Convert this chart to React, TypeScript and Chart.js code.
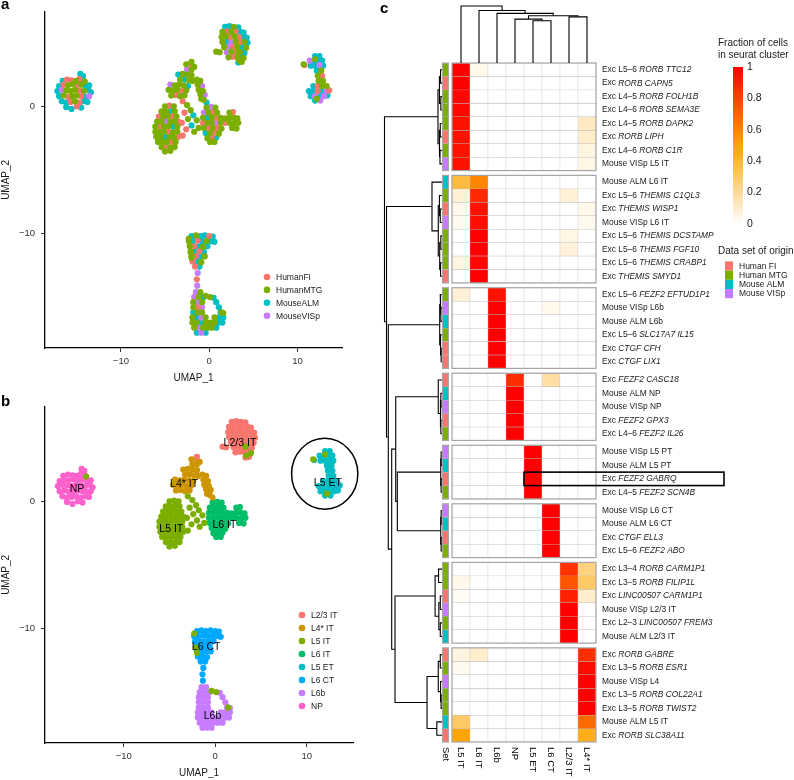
import React, { useEffect, useRef } from 'react';
import { Chart, registerables } from 'chart.js';

Chart.register(...registerables);

const FONT = '"Liberation Sans", Arial, Helvetica, sans-serif';

// ---------------- Panels a / b : UMAP ----------------
const originNames = ['HumanFI', 'HumanMTG', 'MouseALM', 'MouseVISp'];
const originLabelsC = ['Human FI', 'Human MTG', 'Mouse ALM', 'Mouse VISp'];
const originColors = ['#F8766D', '#7CAE00', '#00BFC4', '#C77CFF'];

const clusterNames = ['L2/3 IT', 'L4* IT', 'L5 IT', 'L6 IT', 'L5 ET', 'L6 CT', 'L6b', 'NP'];
const clusterColors = ['#F8766D', '#CD9600', '#7CAE00', '#00BE67', '#00BFC4', '#00A9FF', '#C77CFF', '#FF61CC'];

// [UMAP_1, UMAP_2, origin index]
type P = [number, number, number];

const ptsL23: P[] = [
  [1.8, 6.25, 2], [2.3, 6.3, 2], [2.8, 6.25, 1], [3.3, 6.2, 2],
  [1.5, 5.85, 1], [2.0, 5.9, 0], [2.5, 5.85, 1], [3.0, 5.9, 0], [3.5, 5.85, 2], [3.9, 5.8, 2],
  [1.4, 5.45, 1], [1.9, 5.5, 1], [2.4, 5.45, 0], [2.9, 5.5, 1], [3.4, 5.45, 0], [3.9, 5.45, 2], [4.25, 5.4, 2],
  [1.5, 5.05, 1], [2.0, 5.1, 2], [2.5, 5.05, 3], [3.0, 5.1, 1], [3.5, 5.05, 0], [4.0, 5.05, 1], [4.35, 5.0, 2],
  [1.7, 4.65, 1], [2.2, 4.7, 3], [2.7, 4.65, 0], [3.2, 4.7, 1], [3.7, 4.65, 2], [4.2, 4.6, 1],
  [0.8, 4.3, 1], [1.2, 4.25, 1], [2.0, 4.25, 3], [2.5, 4.3, 1], [3.0, 4.25, 0], [3.5, 4.25, 1], [4.0, 4.2, 2],
  [2.2, 3.85, 1], [2.7, 3.9, 0], [3.2, 3.85, 1], [3.7, 3.85, 2],
  [3.3, 3.45, 2], [3.7, 3.5, 1], [-2.0, 3.5, 1],
];

const ptsL4: P[] = [
  [-2.6, 3.3, 1], [-2.1, 3.35, 0], [-1.7, 3.1, 1], [-2.5, 2.9, 3], [-2.0, 2.9, 1],
  [-3.5, 2.5, 2], [-3.0, 2.55, 1], [-2.5, 2.5, 1], [-2.0, 2.45, 1], [-3.3, 2.1, 1], [-2.8, 2.1, 2], [-2.3, 2.05, 1], [-1.9, 2.0, 1],
  [-4.4, 1.7, 3], [-3.9, 1.65, 1], [-3.4, 1.7, 1], [-2.9, 1.65, 1], [-2.4, 1.6, 2],
  [-4.6, 1.3, 1], [-4.1, 1.25, 1], [-3.6, 1.3, 1], [-3.1, 1.2, 0], [-2.6, 1.25, 1],
  [-4.3, 0.85, 1], [-3.8, 0.9, 0], [-3.3, 0.8, 1], [-2.8, 0.85, 1],
  [-1.4, 2.1, 1], [-1.0, 2.0, 1], [-1.3, 1.7, 1], [-0.8, 1.6, 3], [-1.2, 1.3, 1], [-0.7, 1.2, 1],
  [-0.5, 0.9, 3], [-1.0, 0.95, 1], [-0.6, 0.5, 1], [-0.3, 0.3, 2], [-0.9, 0.6, 1],
];

const ptsL5: P[] = [
  [-5.0, 0.0, 1], [-4.5, 0.05, 0], [-4.0, 0.0, 1],
  [-5.4, -0.4, 1], [-4.9, -0.4, 1], [-4.4, -0.35, 2], [-3.9, -0.4, 1],
  [-5.7, -0.8, 0], [-5.2, -0.8, 1], [-4.7, -0.75, 1], [-4.2, -0.8, 0], [-3.7, -0.8, 1],
  [-5.9, -1.2, 1], [-5.4, -1.2, 1], [-4.9, -1.15, 3], [-4.4, -1.2, 1], [-3.9, -1.2, 1], [-3.5, -1.2, 0],
  [-6.1, -1.6, 1], [-5.6, -1.6, 0], [-5.1, -1.6, 1], [-4.6, -1.55, 1], [-4.1, -1.6, 2], [-3.6, -1.6, 1],
  [-6.1, -2.0, 1], [-5.6, -2.0, 1], [-5.1, -2.0, 1], [-4.6, -2.0, 0], [-4.1, -2.05, 1], [-3.6, -2.0, 1],
  [-6.0, -2.4, 1], [-5.5, -2.4, 1], [-5.0, -2.4, 2], [-4.5, -2.4, 1], [-4.0, -2.45, 1], [-3.5, -2.4, 0],
  [-5.8, -2.8, 1], [-5.3, -2.8, 1], [-4.8, -2.8, 1], [-4.3, -2.8, 0], [-3.8, -2.8, 1],
  [-5.4, -3.2, 1], [-4.9, -3.2, 0], [-4.4, -3.25, 1], [-3.9, -3.2, 1],
  [-5.0, -3.55, 1], [-4.4, -3.5, 1],
  [-3.0, 0.4, 0], [-2.5, 0.1, 1], [-2.1, -0.3, 1], [-2.8, -0.5, 0], [-1.8, -0.7, 2], [-2.4, -1.0, 1],
  [-1.4, -1.1, 1], [-3.1, -1.3, 0], [-2.0, -1.5, 2], [-1.2, -1.7, 1], [-2.6, -1.8, 0], [-1.7, -2.0, 1], [-3.0, -2.3, 0],
  [-14.1, 1.95, 1], [3.3, 4.3, 1], [3.4, 3.6, 1], [3.9, 3.8, 1], [12.0, 3.7, 1], [10.7, 3.3, 1], [12.2, 0.6, 1],
  [-2.3, -10.4, 1], [-2.1, -11.5, 1], [-2.0, -11.9, 1], [-0.4, -14.9, 1], [0.1, -15.0, 1], [1.4, -16.2, 1],
];

const ptsL6: P[] = [
  [-0.3, -0.1, 1], [0.2, -0.05, 3], [0.7, -0.1, 1],
  [-0.6, -0.5, 3], [-0.1, -0.5, 1], [0.4, -0.45, 0], [0.9, -0.5, 1], [2.3, -0.5, 1], [2.7, -0.45, 0],
  [-0.7, -0.9, 1], [-0.2, -0.9, 2], [0.3, -0.85, 1], [0.8, -0.9, 0], [1.3, -0.9, 1], [1.8, -0.95, 1], [2.3, -0.9, 1], [2.8, -0.9, 1], [3.2, -0.95, 1],
  [-0.7, -1.3, 0], [-0.2, -1.3, 1], [0.3, -1.3, 1], [0.8, -1.25, 3], [1.3, -1.3, 1], [1.8, -1.3, 0], [2.3, -1.3, 1], [2.8, -1.35, 1], [3.3, -1.3, 1],
  [-0.6, -1.7, 1], [-0.1, -1.7, 0], [0.4, -1.7, 1], [0.9, -1.7, 0], [1.4, -1.75, 1], [2.6, -1.7, 1], [3.1, -1.75, 1],
  [-0.4, -2.1, 2], [0.1, -2.1, 1], [0.6, -2.1, 0], [1.1, -2.15, 1],
  [-0.2, -2.5, 1], [0.3, -2.5, 0], [0.8, -2.45, 2],
  [0.1, -2.8, 1], [0.6, -2.8, 1],
];

const ptsL5ET: P[] = [
  [12.0, 3.95, 2], [12.5, 3.95, 2],
  [11.4, 3.6, 3], [11.9, 3.6, 2], [12.4, 3.65, 2], [12.8, 3.6, 2],
  [10.8, 3.25, 0], [11.5, 3.2, 2], [12.0, 3.2, 2], [12.5, 3.25, 3], [12.9, 3.2, 2],
  [12.2, 2.8, 2], [12.7, 2.8, 1], [12.3, 2.4, 1], [12.8, 2.4, 0], [12.4, 2.0, 1], [12.9, 2.0, 1],
  [11.8, 1.6, 2], [12.3, 1.6, 0], [12.8, 1.6, 1], [13.3, 1.6, 1],
  [11.3, 1.2, 2], [11.8, 1.2, 2], [12.3, 1.2, 0], [12.8, 1.2, 2], [13.3, 1.2, 3], [13.6, 1.25, 0],
  [11.5, 0.8, 2], [12.0, 0.8, 3], [12.5, 0.8, 2], [13.0, 0.8, 3], [13.4, 0.85, 2],
  [12.0, 0.45, 2], [12.6, 0.45, 3],
];

const ptsL6CT: P[] = [
  [-2.0, -10.2, 2], [-1.5, -10.15, 1], [-1.0, -10.2, 2], [-0.5, -10.15, 2], [0.0, -10.2, 0], [0.4, -10.25, 2],
  [-2.3, -10.6, 1], [-1.8, -10.6, 2], [-1.3, -10.55, 0], [-0.8, -10.6, 2], [-0.3, -10.6, 1], [0.2, -10.6, 2], [0.6, -10.65, 2],
  [-2.2, -11.0, 1], [-1.7, -11.0, 0], [-1.2, -11.0, 2], [-0.7, -11.05, 1], [-0.2, -11.0, 2],
  [-2.1, -11.4, 1], [-1.6, -11.4, 2], [-1.1, -11.4, 0], [-0.6, -11.45, 2],
  [-2.0, -11.8, 1], [-1.5, -11.8, 0], [-1.0, -11.8, 2], [-0.5, -11.8, 1],
  [-1.9, -12.2, 0], [-1.4, -12.2, 2], [-0.9, -12.25, 1],
  [-1.6, -12.6, 0], [-1.1, -12.6, 2],
  [-1.3, -13.1, 3], [-1.4, -13.6, 0], [-1.35, -14.1, 3],
];

const ptsL6b: P[] = [
  [-1.5, -14.6, 3], [-1.0, -14.6, 1],
  [-1.7, -15.0, 3], [-1.2, -15.0, 1], [-0.6, -15.0, 2], [0.5, -15.05, 2],
  [-1.8, -15.4, 1], [-1.3, -15.4, 3], [-0.8, -15.4, 1], [0.8, -15.4, 2],
  [-1.8, -15.8, 1], [-1.3, -15.8, 0], [-0.8, -15.8, 3], [1.1, -15.8, 2],
  [-1.8, -16.2, 2], [-1.3, -16.2, 1], [-0.8, -16.2, 1], [1.3, -16.2, 2], [1.6, -16.25, 1],
  [-1.9, -16.6, 1], [-1.4, -16.6, 2], [-0.9, -16.6, 3], [-0.4, -16.6, 1], [0.6, -16.6, 1], [1.1, -16.6, 2], [1.6, -16.6, 2],
  [-1.9, -17.0, 1], [-1.4, -17.0, 1], [-0.9, -17.0, 2], [-0.4, -17.0, 1], [0.1, -17.0, 1], [0.6, -17.0, 1], [1.1, -17.0, 2], [1.5, -17.0, 2],
  [-1.7, -17.4, 1], [-1.2, -17.4, 3], [-0.7, -17.4, 1], [-0.2, -17.4, 1], [0.3, -17.4, 1], [0.8, -17.4, 2],
  [-1.4, -17.8, 2], [-0.9, -17.8, 3], [-0.4, -17.8, 2],
];

const ptsNP: P[] = [
  [-14.6, 2.55, 2], [-14.3, 2.4, 2],
  [-16.6, 2.0, 2], [-16.1, 2.1, 0], [-15.6, 2.05, 0], [-15.1, 2.0, 1], [-14.7, 2.15, 0], [-14.2, 2.0, 2],
  [-17.0, 1.6, 2], [-16.5, 1.7, 0], [-16.0, 1.65, 1], [-15.5, 1.75, 1], [-15.0, 1.7, 0], [-14.5, 1.7, 1], [-14.0, 1.6, 2], [-13.6, 1.65, 2],
  [-17.2, 1.2, 2], [-16.7, 1.3, 3], [-16.2, 1.25, 1], [-15.7, 1.2, 1], [-15.2, 1.3, 1], [-14.7, 1.25, 0], [-14.2, 1.2, 1], [-13.7, 1.3, 2], [-13.4, 1.1, 2],
  [-17.0, 0.8, 2], [-16.5, 0.85, 1], [-16.0, 0.75, 0], [-15.5, 0.8, 1], [-15.0, 0.85, 1], [-14.5, 0.8, 0], [-14.0, 0.75, 2], [-13.6, 0.8, 3],
  [-16.7, 0.4, 2], [-16.2, 0.3, 2], [-15.7, 0.35, 0], [-15.2, 0.4, 1], [-14.7, 0.3, 0], [-14.2, 0.4, 2], [-13.8, 0.35, 2],
  [-16.2, -0.05, 2], [-15.6, -0.2, 2], [-15.0, 0.0, 0], [-14.5, -0.1, 2],
];

const clusterPoints: P[][] = [ptsL23, ptsL4, ptsL5, ptsL6, ptsL5ET, ptsL6CT, ptsL6b, ptsNP];
const clusterLabelPos: [number, number][] = [
  [2.7, 4.6], [-3.4, 1.35], [-4.8, -2.15], [1.0, -1.9], [12.3, 1.4], [-1.0, -11.5], [-0.3, -16.9], [-15.1, 0.95],
];
const highlightCircle = { center: [11.96, 2.17], radius: [3.62, 2.79] };

const umapXRange = [-18.6, 15.05];
const umapYRange = [-19.0, 7.44];
const umapTicksX = [-10, 0, 10];
const umapTicksY = [-10, 0];

// ---------------- Panel c : heatmap ----------------
const heatColumns = ['L5 IT', 'L6 IT', 'L6b', 'NP', 'L5 ET', 'L6 CT', 'L2/3 IT', 'L4* IT'];
const groupSizes = [8, 8, 6, 5, 4, 4, 6, 7];

const rowLabels: [string, string][] = [
  ['Exc L5–6 ', 'RORB TTC12'], ['Exc ', 'RORB CAPN5'], ['Exc L4–5 ', 'RORB FOLH1B'], ['Exc L4–6 ', 'RORB SEMA3E'],
  ['Exc L4–5 ', 'RORB DAPK2'], ['Exc ', 'RORB LIPH'], ['Exc L4–6 ', 'RORB C1R'], ['Mouse VISp L5 IT', ''],
  ['Mouse ALM L6 IT', ''], ['Exc L5–6 ', 'THEMIS C1QL3'], ['Exc ', 'THEMIS WISP1'], ['Mouse VISp L6 IT', ''],
  ['Exc L5–6 ', 'THEMIS DCSTAMP'], ['Exc L5–6 ', 'THEMIS FGF10'], ['Exc L5–6 ', 'THEMIS CRABP1'], ['Exc ', 'THEMIS SMYD1'],
  ['Exc L5–6 ', 'FEZF2 EFTUD1P1'], ['Mouse VISp L6b', ''], ['Mouse ALM L6b', ''], ['Exc L5–6 ', 'SLC17A7 IL15'],
  ['Exc ', 'CTGF CFH'], ['Exc ', 'CTGF LIX1'],
  ['Exc ', 'FEZF2 CASC18'], ['Mouse ALM NP', ''], ['Mouse VISp NP', ''], ['Exc ', 'FEZF2 GPX3'], ['Exc L4–6 ', 'FEZF2 IL26'],
  ['Mouse VISp L5 PT', ''], ['Mouse ALM L5 PT', ''], ['Exc ', 'FEZF2 GABRQ'], ['Exc L4–5 ', 'FEZF2 SCN4B'],
  ['Mouse VISp L6 CT', ''], ['Mouse ALM L6 CT', ''], ['Exc ', 'CTGF ELL3'], ['Exc L5–6 ', 'FEZF2 ABO'],
  ['Exc L3–4 ', 'RORB CARM1P1'], ['Exc L3–5 ', 'RORB FILIP1L'], ['Exc ', 'LINC00507 CARM1P1'], ['Mouse VISp L2/3 IT', ''],
  ['Exc L2–3 ', 'LINC00507 FREM3'], ['Mouse ALM L2/3 IT', ''],
  ['Exc ', 'RORB GABRE'], ['Exc L3–5 ', 'RORB ESR1'], ['Mouse VISp L4', ''], ['Exc L3–5 ', 'RORB COL22A1'],
  ['Exc L3–5 ', 'RORB TWIST2'], ['Mouse ALM L5 IT', ''], ['Exc ', 'RORB SLC38A11'],
];

// 0 Human FI, 1 Human MTG, 2 Mouse ALM, 3 Mouse VISp
const rowOrigin = [
  1, 0, 1, 1, 1, 0, 1, 3,
  2, 1, 0, 3, 1, 1, 1, 0,
  1, 3, 2, 1, 0, 0,
  0, 2, 3, 0, 1,
  3, 2, 0, 1,
  3, 2, 0, 1,
  1, 1, 0, 3, 1, 2,
  0, 1, 3, 1, 1, 2, 0,
];

const heatValues = [
  [1.0, 0.04, 0, 0, 0, 0, 0, 0],
  [1.0, 0, 0, 0, 0, 0, 0, 0],
  [0.98, 0, 0, 0, 0, 0, 0, 0],
  [0.98, 0, 0, 0, 0, 0, 0, 0],
  [0.95, 0, 0, 0, 0, 0, 0, 0.12],
  [0.95, 0, 0, 0, 0, 0, 0, 0.1],
  [0.95, 0, 0, 0, 0, 0, 0, 0.06],
  [0.95, 0, 0, 0, 0, 0, 0, 0.05],
  [0.38, 0.6, 0, 0, 0, 0, 0, 0],
  [0.08, 0.88, 0, 0, 0, 0, 0.08, 0],
  [0.04, 0.95, 0, 0, 0, 0, 0, 0.04],
  [0.03, 0.96, 0, 0, 0, 0, 0, 0.03],
  [0, 1.0, 0, 0, 0, 0, 0.05, 0],
  [0, 1.0, 0, 0, 0, 0, 0.07, 0],
  [0.06, 0.98, 0, 0, 0, 0, 0, 0],
  [0, 1.0, 0, 0, 0, 0, 0, 0],
  [0.08, 0, 0.95, 0, 0, 0, 0, 0],
  [0, 0, 1.0, 0, 0, 0.04, 0, 0],
  [0, 0, 1.0, 0, 0, 0, 0, 0],
  [0, 0, 1.0, 0, 0, 0, 0, 0],
  [0, 0, 1.0, 0, 0, 0, 0, 0],
  [0, 0, 1.0, 0, 0, 0, 0, 0],
  [0, 0, 0, 0.86, 0, 0.18, 0, 0],
  [0, 0, 0, 1.0, 0, 0, 0, 0],
  [0, 0, 0, 1.0, 0, 0, 0, 0],
  [0, 0, 0, 1.0, 0, 0, 0, 0],
  [0, 0, 0, 1.0, 0, 0, 0, 0],
  [0, 0, 0, 0, 1.0, 0, 0, 0],
  [0, 0, 0, 0, 1.0, 0, 0, 0],
  [0, 0, 0, 0, 1.0, 0, 0, 0],
  [0, 0, 0, 0, 1.0, 0, 0, 0],
  [0, 0, 0, 0, 0, 1.0, 0, 0],
  [0, 0, 0, 0, 0, 1.0, 0, 0],
  [0, 0, 0, 0, 0, 1.0, 0, 0],
  [0, 0, 0, 0, 0, 1.0, 0, 0],
  [0, 0, 0, 0, 0, 0, 0.85, 0.25],
  [0.04, 0, 0, 0, 0, 0, 0.75, 0.3],
  [0.02, 0, 0, 0, 0, 0, 0.9, 0.1],
  [0, 0, 0, 0, 0, 0, 1.0, 0],
  [0, 0, 0, 0, 0, 0, 1.0, 0],
  [0, 0, 0, 0, 0, 0, 1.0, 0],
  [0.06, 0.1, 0, 0, 0, 0, 0, 0.86],
  [0.03, 0, 0, 0, 0, 0, 0, 0.97],
  [0, 0, 0, 0, 0, 0, 0, 1.0],
  [0, 0, 0, 0, 0, 0, 0, 1.0],
  [0, 0, 0, 0, 0, 0, 0, 1.0],
  [0.3, 0, 0, 0, 0, 0, 0, 0.68],
  [0.5, 0, 0, 0, 0, 0, 0, 0.45],
];

// Column dendrogram: [node id, child, child, height] (leaf = column index)
const colMerges: [string, number | string, number | string, number][] = [
  ['m1', 4, 5, 0.74], ['m2', 3, 'm1', 0.77], ['m3', 6, 7, 0.81], ['m4', 'm2', 'm3', 0.83],
  ['m5', 2, 'm4', 0.87], ['m6', 1, 'm5', 0.92], ['root', 0, 'm6', 1.0],
];

// Row dendrogram: [node id, child, child, height] (leaf = row index)
const rowMerges: [string, number | string, number | string, number][] = [
  ['a1', 0, 1, 0.025], ['a2', 2, 3, 0.02], ['a3', 4, 5, 0.03], ['a4', 6, 7, 0.035], ['a5', 'a1', 'a2', 0.045], ['a6', 'a3', 'a4', 0.05], ['g1', 'a5', 'a6', 0.07],
  ['b1', 10, 11, 0.03], ['b2', 9, 'b1', 0.045], ['b3', 12, 13, 0.02], ['b4', 14, 15, 0.025], ['b5', 'b3', 'b4', 0.04], ['b6', 'b2', 'b5', 0.065], ['g2', 8, 'b6', 0.174],
  ['c1', 17, 18, 0.02], ['c2', 16, 'c1', 0.03], ['c3', 20, 21, 0.015], ['c4', 19, 'c3', 0.025], ['g3', 'c2', 'c4', 0.04],
  ['d1', 23, 24, 0.02], ['d2', 25, 26, 0.02], ['d3', 'd1', 'd2', 0.03], ['g4', 22, 'd3', 0.065],
  ['e1', 27, 28, 0.015], ['e2', 29, 30, 0.015], ['g5', 'e1', 'e2', 0.022],
  ['f1', 31, 32, 0.015], ['f2', 33, 34, 0.015], ['g6', 'f1', 'f2', 0.022],
  ['h1', 35, 36, 0.06], ['h2', 37, 38, 0.03], ['h3', 39, 40, 0.03], ['h4', 'h2', 'h3', 0.055], ['g7', 'h1', 'h4', 0.12],
  ['i1', 41, 42, 0.03], ['i2', 44, 45, 0.015], ['i3', 43, 'i2', 0.025], ['i4', 'i1', 'i3', 0.065], ['i5', 46, 47, 0.09], ['g8', 'i4', 'i5', 0.26],
  ['r6', 'g5', 'g6', 0.777], ['r4', 'g4', 'r6', 0.805], ['r5', 'g7', 'g8', 0.817], ['r3', 'r4', 'r5', 0.875],
  ['r2', 'g3', 'r3', 0.934], ['r1', 'g2', 'r2', 0.965], ['root', 'g1', 'r1', 1.0],
];

const colorbarTicks = [0, 0.2, 0.4, 0.6, 0.8, 1];
const highlightCell = { row: 29, col: 4 };

// ---------------- helpers ----------------
const GAP = 0.357;
const rowGroup: number[] = [];
groupSizes.forEach((n, g) => { for (let k = 0; k < n; k++) rowGroup.push(g); });
const rowPos = rowGroup.map((g, i) => i + g * GAP);
const Y_MIN = -0.5;
const Y_MAX = rowPos[rowPos.length - 1] + 0.5;
const groupRanges: [number, number][] = [];
{
  let s = 0;
  groupSizes.forEach((n) => { groupRanges.push([s, s + n - 1]); s += n; });
}

function heatColor(v: number) {
  let g: number, b: number;
  if (v <= 0.5) { const t = v / 0.5; g = 255 - 90 * t; b = 255 * (1 - t); }
  else { const t = (v - 0.5) / 0.5; g = 165 * (1 - t); b = 0; }
  return `rgb(255,${Math.round(g)},${Math.round(b)})`;
}

const fmtTick = (v: number) => (v < 0 ? '\u2212' + Math.abs(v) : String(v));
const POINT_R = 3.1;

function scatterConfig(panel: 'a' | 'b'): any {
  const isA = panel === 'a';
  const allPoints = clusterPoints.flat();
  const datasets = isA
    ? originNames.map((name, o) => ({
        label: name,
        data: allPoints.filter((p) => p[2] === o).map((p) => ({ x: p[0], y: p[1] })),
        backgroundColor: originColors[o],
        borderColor: originColors[o],
        pointRadius: POINT_R,
        pointBorderWidth: 0,
        pointHoverRadius: POINT_R,
        order: [2, 1, 4, 3][o],
      }))
    : clusterNames.map((name, c) => ({
        label: name,
        data: clusterPoints[c].map((p) => ({ x: p[0], y: p[1] })),
        backgroundColor: clusterColors[c],
        borderColor: clusterColors[c],
        pointRadius: POINT_R,
        pointBorderWidth: 0,
        pointHoverRadius: POINT_R,
        order: name === 'L5 IT' ? 0 : name === 'L2/3 IT' ? 1 : 2,
      }));

  const xAxisHeight = isA ? 47 : 37;
  const padRight = isA ? 28 : 17;

  const deco = {
    id: 'deco' + panel,
    afterDraw(chart: any) {
      const { ctx, chartArea: ca, scales } = chart;
      ctx.save();
      ctx.fillStyle = '#000';
      ctx.font = `bold 15px ${FONT}`;
      ctx.textAlign = 'left';
      ctx.textBaseline = 'alphabetic';
      ctx.fillText(panel, 1, isA ? 9 : 11);

      ctx.fillStyle = '#1a1a1a';
      ctx.font = `10px ${FONT}`;
      ctx.textAlign = 'center';
      ctx.textBaseline = 'middle';
      ctx.fillText('UMAP_1', (ca.left + ca.right) / 2, ca.bottom + 30);
      ctx.save();
      ctx.translate(6, (ca.top + ca.bottom) / 2);
      ctx.rotate(-Math.PI / 2);
      ctx.fillText('UMAP_2', 0, 0);
      ctx.restore();

      // legend
      const names = isA ? originNames : clusterNames;
      const cols = isA ? originColors : clusterColors;
      const lx = isA ? ca.right - 75 : ca.right - 51;
      const ly = isA ? ca.bottom - 71 : ca.bottom - 128;
      const pitch = isA ? 12.9 : 13.0;
      ctx.textAlign = 'left';
      ctx.font = `8.5px ${FONT}`;
      names.forEach((n, i) => {
        const y = ly + i * pitch;
        ctx.fillStyle = cols[i];
        ctx.beginPath();
        ctx.arc(lx, y, 3.3, 0, Math.PI * 2);
        ctx.fill();
        ctx.fillStyle = '#1a1a1a';
        ctx.fillText(n, lx + 9, y + 0.5);
      });

      if (!isA) {
        const x = scales.x, y = scales.y;
        ctx.fillStyle = '#000';
        ctx.font = `10.5px ${FONT}`;
        ctx.textAlign = 'center';
        clusterNames.forEach((n, i) => {
          const [ux, uy] = clusterLabelPos[i];
          ctx.fillText(n, x.getPixelForValue(ux), y.getPixelForValue(uy));
        });
        const cx = x.getPixelForValue(highlightCircle.center[0]);
        const cy = y.getPixelForValue(highlightCircle.center[1]);
        const rx = Math.abs(x.getPixelForValue(highlightCircle.center[0] + highlightCircle.radius[0]) - cx);
        const ry = Math.abs(y.getPixelForValue(highlightCircle.center[1] + highlightCircle.radius[1]) - cy);
        ctx.strokeStyle = '#000';
        ctx.lineWidth = 1.5;
        ctx.beginPath();
        ctx.ellipse(cx, cy, rx, ry, 0, 0, Math.PI * 2);
        ctx.stroke();
      }
      ctx.restore();
    },
  };

  const axisCommon = {
    type: 'linear',
    grid: { drawOnChartArea: false, drawTicks: true, tickLength: 4, color: '#333', lineWidth: 1 },
    border: { display: true, color: '#000', width: 1.3 },
  };

  return {
    type: 'scatter',
    data: { datasets },
    options: {
      animation: false,
      responsive: false,
      maintainAspectRatio: false,
      layout: { padding: { top: 7, right: padRight, bottom: 0, left: 0 } },
      plugins: { legend: { display: false }, tooltip: { enabled: false } },
      scales: {
        x: {
          ...axisCommon,
          min: umapXRange[0],
          max: umapXRange[1],
          afterBuildTicks: (s: any) => { s.ticks = umapTicksX.map((v) => ({ value: v })); },
          afterFit: (s: any) => { s.height = xAxisHeight; },
          ticks: { font: { family: FONT, size: 9.5 }, color: '#333', padding: 4, maxRotation: 0, autoSkip: false, callback: (v: number) => fmtTick(v) },
        },
        y: {
          ...axisCommon,
          min: umapYRange[0],
          max: umapYRange[1],
          afterBuildTicks: (s: any) => { s.ticks = umapTicksY.map((v) => ({ value: v })); },
          afterFit: (s: any) => { s.width = 45; },
          ticks: { font: { family: FONT, size: 9.5 }, color: '#333', padding: 6, autoSkip: false, callback: (v: number) => fmtTick(v) },
        },
      },
    },
    plugins: [deco],
  };
}

function outlineGroups(ctx: any, left: number, right: number, y: any) {
  ctx.save();
  ctx.strokeStyle = '#a6a6a6';
  ctx.lineWidth = 1.2;
  groupRanges.forEach(([s, e]) => {
    const t = y.getPixelForValue(rowPos[s] - 0.5);
    const b = y.getPixelForValue(rowPos[e] + 0.5);
    ctx.strokeRect(left, t, right - left, b - t);
  });
  ctx.restore();
}

function heatConfig(): any {
  const datasets = heatValues.map((vals, r) => ({
    label: rowLabels[r].join(''),
    data: heatColumns.map(() => [rowPos[r] - 0.5, rowPos[r] + 0.5]),
    backgroundColor: vals.map((v) => heatColor(v)),
    borderColor: '#bcbcbc',
    borderWidth: 0.5,
    borderSkipped: false,
    grouped: false,
    barPercentage: 1,
    categoryPercentage: 1,
  }));

  const deco = {
    id: 'heatDeco',
    afterDraw(chart: any) {
      const { ctx, chartArea: ca, scales } = chart;
      const x = scales.x, y = scales.y;
      const colW = (ca.right - ca.left) / heatColumns.length;
      outlineGroups(ctx, ca.left, ca.right, y);
      ctx.save();
      // panel letter
      ctx.fillStyle = '#000';
      ctx.font = `bold 15px ${FONT}`;
      ctx.textAlign = 'left';
      ctx.textBaseline = 'alphabetic';
      ctx.fillText('c', 10, 13);

      // row labels
      ctx.textBaseline = 'middle';
      ctx.fillStyle = '#1a1a1a';
      rowLabels.forEach(([reg, ital], r) => {
        const py = y.getPixelForValue(rowPos[r]);
        let px = ca.right + 6;
        ctx.font = `8.4px ${FONT}`;
        ctx.fillText(reg, px, py);
        px += ctx.measureText(reg).width;
        if (ital) {
          ctx.font = `italic 8.4px ${FONT}`;
          ctx.fillText(ital, px, py);
        }
      });

      // column labels (rotated, reading downwards)
      ctx.font = `9.5px ${FONT}`;
      ctx.fillStyle = '#000';
      const colLabel = (txt: string, cx: number) => {
        ctx.save();
        ctx.translate(cx, ca.bottom + 5);
        ctx.rotate(Math.PI / 2);
        ctx.textAlign = 'left';
        ctx.textBaseline = 'middle';
        ctx.fillText(txt, 0, 0);
        ctx.restore();
      };
      heatColumns.forEach((c, i) => colLabel(c, x.getPixelForValue(i)));
      colLabel('Set', ca.left - 6.5);

      // highlighted cell + label
      const hx = x.getPixelForValue(highlightCell.col) - colW / 2;
      const ht = y.getPixelForValue(rowPos[highlightCell.row] - 0.5);
      const hb = y.getPixelForValue(rowPos[highlightCell.row] + 0.5);
      ctx.strokeStyle = '#000';
      ctx.lineWidth = 1.6;
      ctx.strokeRect(hx, ht, 200, hb - ht);

      // colour bar legend
      const cbL = 363, cbW = 10, cbTop = 67, cbBot = 224;
      ctx.fillStyle = '#1a1a1a';
      ctx.font = `10px ${FONT}`;
      ctx.textAlign = 'left';
      ctx.fillText('Fraction of cells', 348, 43);
      ctx.fillText('in seurat cluster', 348, 55);
      const grad = ctx.createLinearGradient(0, cbBot, 0, cbTop);
      for (let i = 0; i <= 20; i++) grad.addColorStop(i / 20, heatColor(i / 20));
      ctx.fillStyle = grad;
      ctx.fillRect(cbL, cbTop, cbW, cbBot - cbTop);
      ctx.fillStyle = '#1a1a1a';
      ctx.font = `10.5px ${FONT}`;
      colorbarTicks.forEach((v) => {
        const py = cbBot - v * (cbBot - cbTop);
        ctx.fillText(String(v), cbL + cbW + 4, py);
      });

      // data set legend
      ctx.font = `10px ${FONT}`;
      ctx.fillText('Data set of origin', 348, 251);
      ctx.font = `8.5px ${FONT}`;
      originLabelsC.forEach((n, i) => {
        const cy = 266 + i * 9.2;
        ctx.fillStyle = originColors[i];
        ctx.fillRect(355, cy - 4.6, 8, 9.2);
        ctx.fillStyle = '#1a1a1a';
        ctx.fillText(n, 369, cy + 0.5);
      });
      ctx.restore();
    },
  };

  return {
    type: 'bar',
    data: { labels: heatColumns, datasets },
    options: {
      animation: false,
      responsive: false,
      maintainAspectRatio: false,
      layout: { padding: { top: 63, bottom: 38, left: 82, right: 198 } },
      plugins: { legend: { display: false }, tooltip: { enabled: false } },
      scales: {
        x: { type: 'category', display: false, offset: true },
        y: { type: 'linear', display: false, min: Y_MIN, max: Y_MAX, reverse: true },
      },
    },
    plugins: [deco],
  };
}

function setConfig(): any {
  const datasets = rowOrigin.map((o, r) => ({
    label: rowLabels[r].join(''),
    data: [[rowPos[r] - 0.5, rowPos[r] + 0.5]],
    backgroundColor: originColors[o],
    borderColor: '#bcbcbc',
    borderWidth: 0.5,
    borderSkipped: false,
    grouped: false,
    barPercentage: 1,
    categoryPercentage: 1,
  }));
  return {
    type: 'bar',
    data: { labels: ['Set'], datasets },
    options: {
      animation: false,
      responsive: false,
      maintainAspectRatio: false,
      layout: { padding: { top: 63, bottom: 38, left: 0, right: 0 } },
      plugins: { legend: { display: false }, tooltip: { enabled: false } },
      scales: {
        x: { type: 'category', display: false, offset: true },
        y: { type: 'linear', display: false, min: Y_MIN, max: Y_MAX, reverse: true },
      },
    },
    plugins: [{
      id: 'setOutline',
      afterDraw(chart: any) {
        const { ctx, chartArea: ca, scales } = chart;
        outlineGroups(ctx, ca.left + 0.5, ca.right - 0.5, scales.y);
      },
    }],
  };
}

function dendroDatasets(merges: [string, number | string, number | string, number][], leafPos: number[], horizontal: boolean) {
  const nodes = new Map<string, { p: number; h: number }>();
  const get = (k: number | string) => (typeof k === 'number' ? { p: leafPos[k], h: 0 } : nodes.get(k)!);
  return merges.map(([id, a, b, h]) => {
    const A = get(a), B = get(b);
    nodes.set(id, { p: (A.p + B.p) / 2, h });
    const pts = horizontal
      ? [{ x: A.h, y: A.p }, { x: h, y: A.p }, { x: h, y: B.p }, { x: B.h, y: B.p }]
      : [{ x: A.p, y: A.h }, { x: A.p, y: h }, { x: B.p, y: h }, { x: B.p, y: B.h }];
    return { label: id, data: pts, showLine: true, borderColor: '#000', borderWidth: 1.1, pointRadius: 0, pointHoverRadius: 0, fill: false, tension: 0, clip: false };
  });
}

function leftDendroConfig(): any {
  return {
    type: 'scatter',
    data: { datasets: dendroDatasets(rowMerges, rowPos, true) },
    options: {
      animation: false,
      responsive: false,
      maintainAspectRatio: false,
      layout: { padding: { top: 63, bottom: 38, left: 0, right: 0 } },
      plugins: { legend: { display: false }, tooltip: { enabled: false } },
      scales: {
        x: { type: 'linear', display: false, min: 0, max: 67 / 57.5, reverse: true },
        y: { type: 'linear', display: false, min: Y_MIN, max: Y_MAX, reverse: true },
      },
    },
  };
}

function topDendroConfig(): any {
  return {
    type: 'scatter',
    data: { datasets: dendroDatasets(colMerges, heatColumns.map((_, i) => i), false) },
    options: {
      animation: false,
      responsive: false,
      maintainAspectRatio: false,
      layout: { padding: 0 },
      plugins: { legend: { display: false }, tooltip: { enabled: false } },
      scales: {
        x: { type: 'linear', display: false, min: -0.5, max: heatColumns.length - 0.5 },
        y: { type: 'linear', display: false, min: 0, max: 63 / 57 },
      },
    },
  };
}

export default function App() {
  const aRef = useRef<HTMLCanvasElement>(null);
  const bRef = useRef<HTMLCanvasElement>(null);
  const heatRef = useRef<HTMLCanvasElement>(null);
  const setRef = useRef<HTMLCanvasElement>(null);
  const leftRef = useRef<HTMLCanvasElement>(null);
  const topRef = useRef<HTMLCanvasElement>(null);

  useEffect(() => {
    document.body.style.margin = '0';
    const charts = [
      new Chart(aRef.current!, scatterConfig('a')),
      new Chart(bRef.current!, scatterConfig('b')),
      new Chart(heatRef.current!, heatConfig()),
      new Chart(setRef.current!, setConfig()),
      new Chart(leftRef.current!, leftDendroConfig()),
      new Chart(topRef.current!, topDendroConfig()),
    ];
    return () => charts.forEach((c) => c.destroy());
  }, []);

  const abs = (l: number, t: number, w: number, h: number): React.CSSProperties => ({ position: 'absolute', left: l, top: t, width: w, height: h });

  return (
    <div style={{ position: 'absolute', left: 0, top: 0, width: 794, height: 780, background: '#fff', overflow: 'hidden' }}>
      <canvas ref={aRef} width={370} height={395} style={abs(0, 0, 370, 395)} />
      <canvas ref={bRef} width={370} height={385} style={abs(0, 395, 370, 385)} />
      <canvas ref={heatRef} width={424} height={780} style={abs(370, 0, 424, 780)} />
      <canvas ref={setRef} width={7} height={780} style={abs(442, 0, 7, 780)} />
      <canvas ref={leftRef} width={67} height={780} style={abs(375, 0, 67, 780)} />
      <canvas ref={topRef} width={144} height={63} style={abs(452, 0, 144, 63)} />
    </div>
  );
}
